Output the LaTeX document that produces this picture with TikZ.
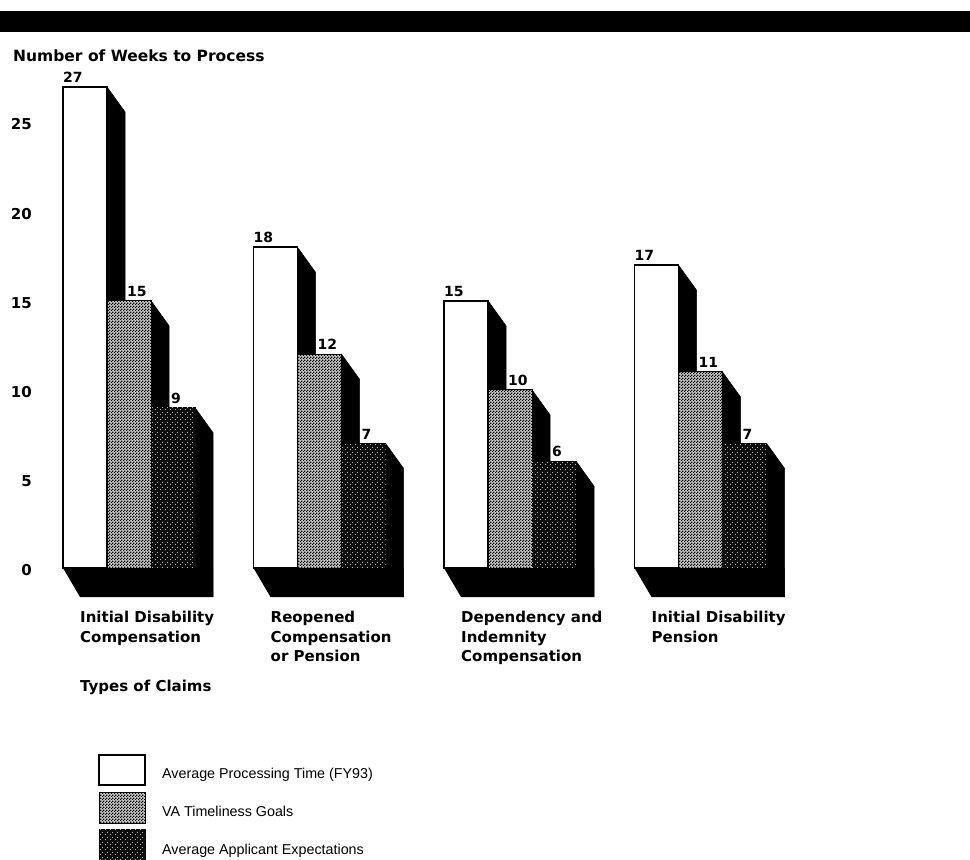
\documentclass[tikz,border=0pt]{standalone}
\usepackage{fontspec}
\setmainfont{Liberation Sans}
\newfontfamily\labfont{DejaVu Sans}
\usetikzlibrary{patterns}
\pgfdeclarepatternformonly{checker}{\pgfqpoint{0pt}{0pt}}{\pgfqpoint{3pt}{3pt}}{\pgfqpoint{3pt}{3pt}}{%
  \pgfpathrectangle{\pgfqpoint{0pt}{0pt}}{\pgfqpoint{1.5pt}{1.5pt}}%
  \pgfpathrectangle{\pgfqpoint{1.5pt}{1.5pt}}{\pgfqpoint{1.5pt}{1.5pt}}%
  \pgfusepath{fill}}
\pgfdeclarepatternformonly{speckle}{\pgfqpoint{0pt}{0pt}}{\pgfqpoint{5pt}{5pt}}{\pgfqpoint{5pt}{5pt}}{%
  \pgfpathrectangle{\pgfqpoint{0pt}{0pt}}{\pgfqpoint{1pt}{1pt}}%
  \pgfpathrectangle{\pgfqpoint{2.5pt}{2.5pt}}{\pgfqpoint{1pt}{1pt}}%
  \pgfusepath{fill}}
\tikzset{
  lab/.style={font=\labfont\bfseries\fontsize{15}{19.5}\selectfont, inner sep=0pt},
  ttl/.style={font=\labfont\bfseries\fontsize{15.5}{18}\selectfont, inner sep=0pt, anchor=base west},
  val/.style={font=\labfont\bfseries\fontsize{14}{16}\selectfont, inner sep=0pt, anchor=south west},
  leg/.style={font=\fontsize{14.3}{17}\selectfont, inner sep=0pt, anchor=base west},
  whitebar/.style={fill=white, draw=black, line width=1.6pt},
  graybar/.style={draw=black, line width=1pt, fill=gray!45, postaction={pattern=checker, pattern color=black}},
  darkbar/.style={draw=black, line width=1pt, fill=black!94, postaction={pattern=speckle, pattern color=gray!55}},
  sideface/.style={fill=black, draw=black, line width=0.5pt, line join=round},
}
\begin{document}
\begin{tikzpicture}[x=1pt,y=-1pt]
\useasboundingbox[fill=white] (0,0) rectangle (970,860);
\fill[black] (0,11) rectangle (970,32);
\node[ttl] (title) at (13,61) {Number of Weeks to Process};
\foreach \v in {0,5,...,25} {
  \node[lab, anchor=east] (y\v) at (32,{568-17.82*\v+2}) {\v};
}
\foreach \i/\a/\b/\c/\la in {0/27/15/9/{Initial Disability\\Compensation},
                             1/18/12/7/{Reopened\\Compensation\\or Pension},
                             2/15/10/6/{Dependency and\\Indemnity\\Compensation},
                             3/17/11/7/{Initial Disability\\Pension}} {
  \pgfmathsetmacro\xo{63+190.5*\i}
  \pgfmathsetmacro\ya{568-17.82*\a}
  \pgfmathsetmacro\yb{568-17.82*\b}
  \pgfmathsetmacro\yc{568-17.82*\c}
  % floor
  \fill[black] (\xo,568) -- (\xo+17,597) -- (\xo+150,597) -- (\xo+150,568) -- cycle;
  % white bar
  \fill[sideface] (\xo+44,\ya) -- (\xo+62,\ya+25) -- (\xo+62,593) -- (\xo+44,568) -- cycle;
  \draw[whitebar] (\xo,568) rectangle (\xo+44,\ya);
  % gray bar
  \fill[sideface] (\xo+88,\yb) -- (\xo+106,\yb+25) -- (\xo+106,593) -- (\xo+88,568) -- cycle;
  \draw[graybar] (\xo+44,568) rectangle (\xo+88,\yb);
  % dark bar
  \fill[sideface] (\xo+132,\yc) -- (\xo+150,\yc+25) -- (\xo+150,597) -- (\xo+132,568) -- cycle;
  \draw[darkbar] (\xo+88,568) rectangle (\xo+132,\yc);
  % value labels
  \node[val] (va\i) at (\xo,\ya-4) {\a};
  \node[val] (vb\i) at (\xo+64,\yb-4) {\b};
  \node[val] (vc\i) at (\xo+108,\yc-4) {\c};
  % category label
  \node[lab, anchor=north west, align=left] (cat\i) at (\xo+17,611) {\la};
}
\node[lab, anchor=base west] (types) at (80,691) {Types of Claims};
% legend
\draw[whitebar, line width=1.2pt] (99,755) rectangle (145,785);
\draw[graybar] (99,792) rectangle (145,823);
\draw[darkbar] (99,829) rectangle (145,860);
\node[leg] (l1) at (162,778) {Average Processing Time (FY93)};
\node[leg] (l2) at (162,816) {VA Timeliness Goals};
\node[leg] (l3) at (162,854) {Average Applicant Expectations};
\end{tikzpicture}
\end{document}
